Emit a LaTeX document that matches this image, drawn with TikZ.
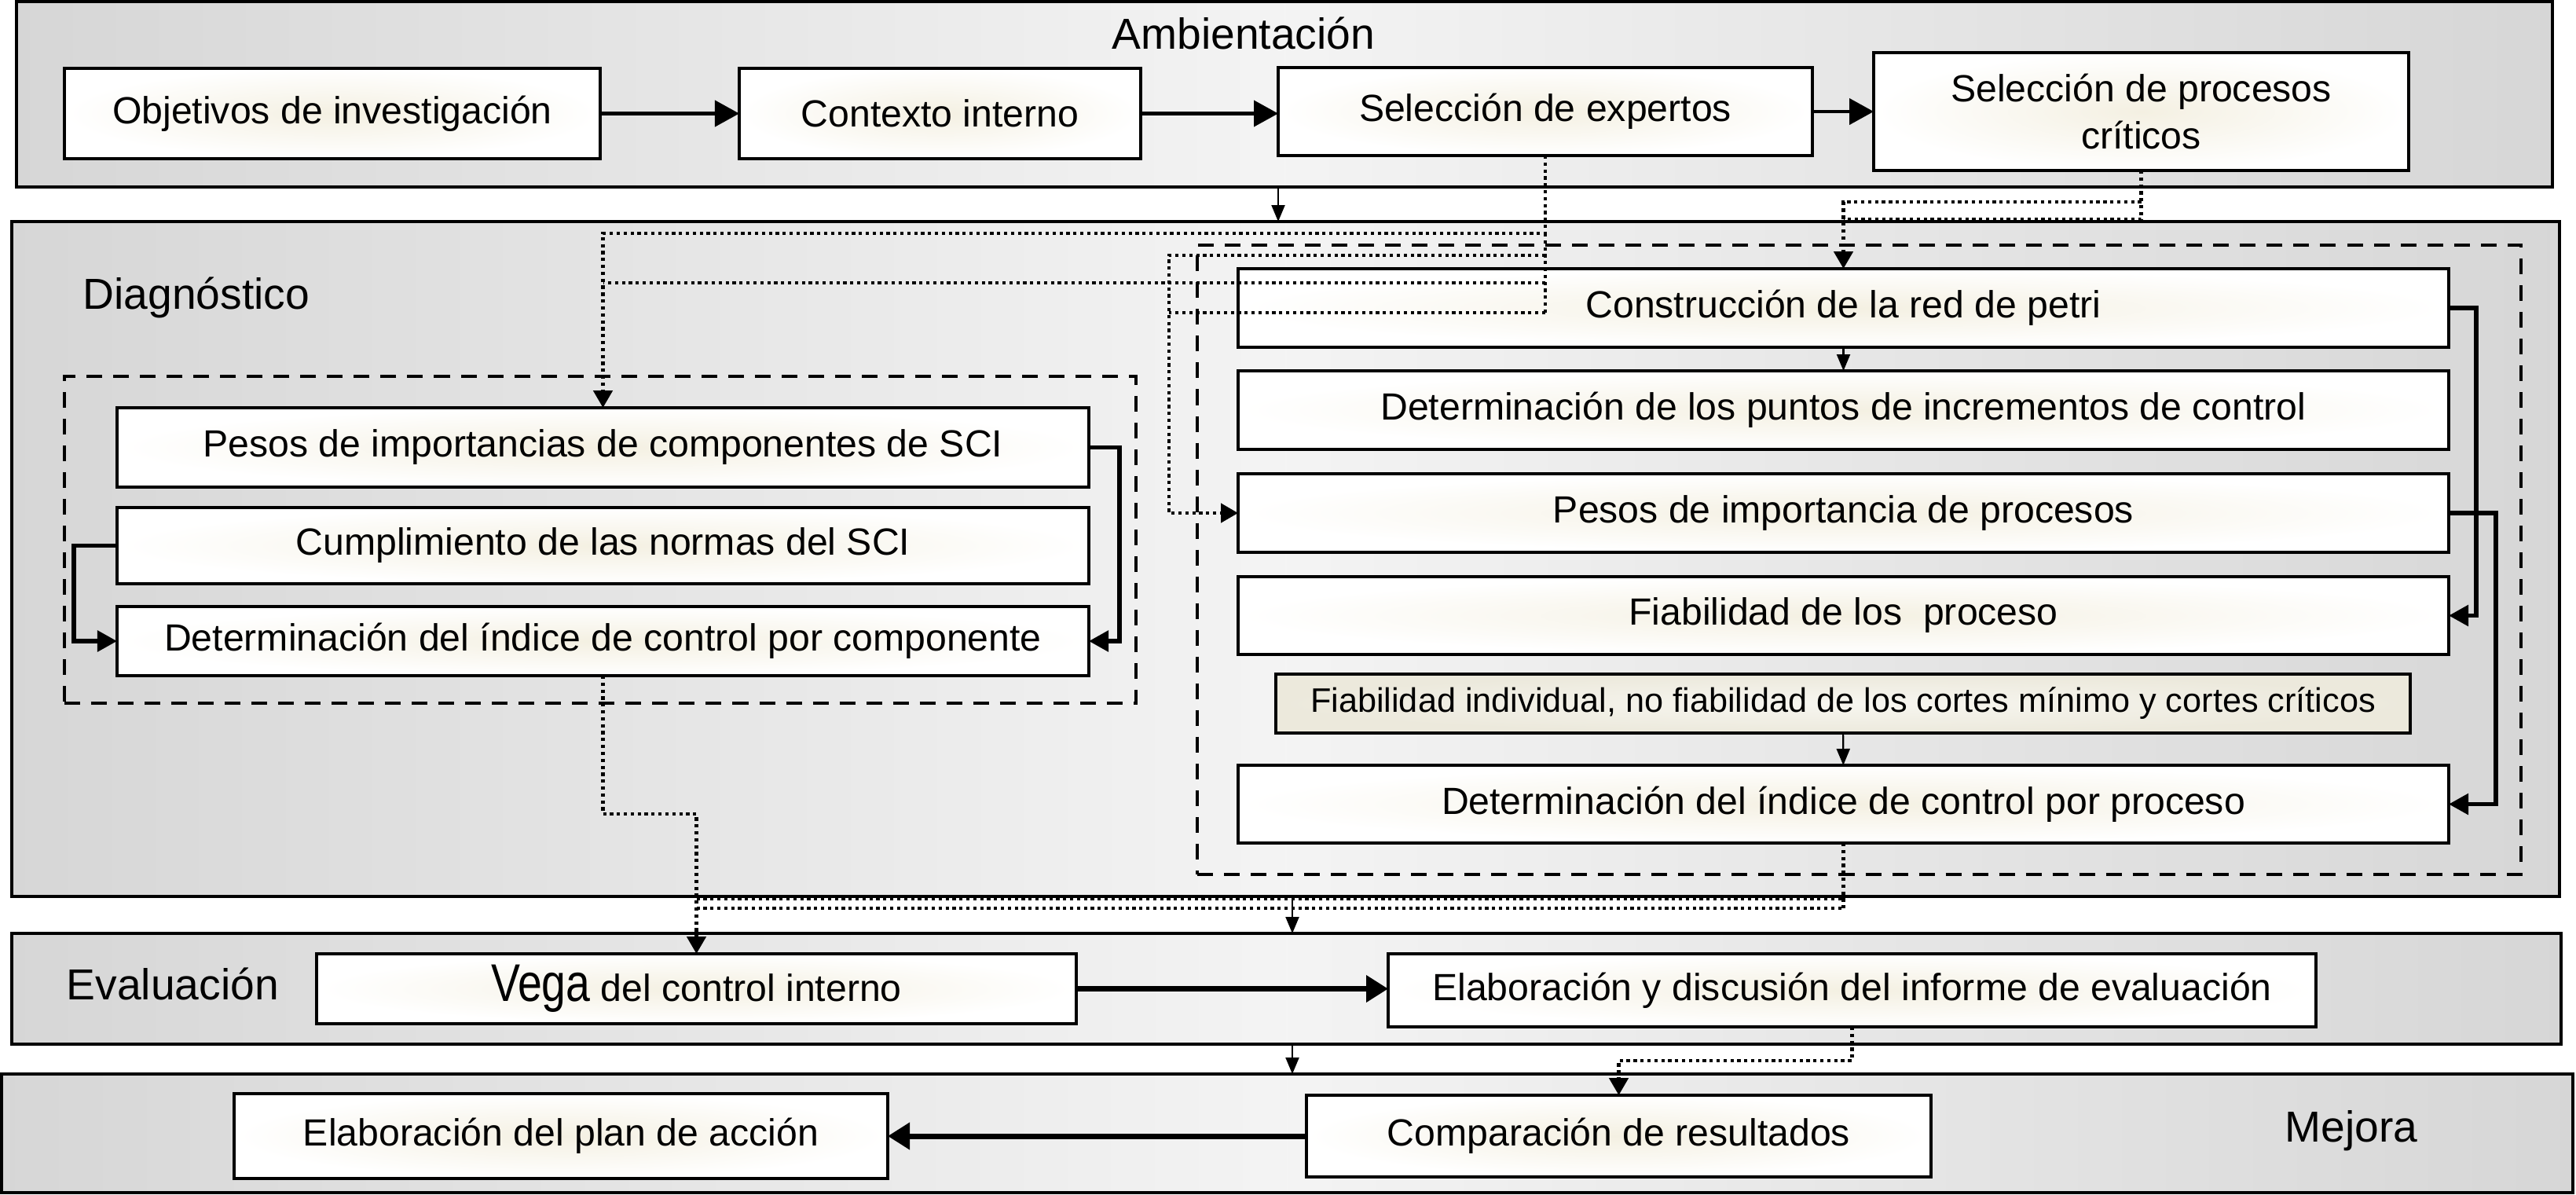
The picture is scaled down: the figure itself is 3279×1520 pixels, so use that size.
\documentclass[tikz,border=0pt]{standalone}
\usepackage{fontspec}
\usepackage{graphicx}
\setmainfont{Liberation Sans}
\usetikzlibrary{arrows.meta,calc}
\definecolor{glow}{RGB}{244,240,226}
\definecolor{beigein}{RGB}{247,246,240}
\definecolor{beigeout}{RGB}{236,233,220}
\begin{document}
\begin{tikzpicture}[x=0.01cm,y=-0.01cm,
  rect/.style args={#1/#2/#3/#4}{at={({(#1+#3)/2},{(#2+#4)/2})},
    minimum width={(#3-#1)*0.01cm}, minimum height={(#4-#2)*0.01cm}},
  panel/.style={draw=black, line width=1pt, inner sep=0pt, outer sep=0pt,
    left color=gray!32, right color=gray!32, middle color=gray!9},
  box/.style={draw=black, line width=0.9pt, inner sep=0pt, outer sep=0pt,
    inner color=glow, outer color=white, align=center,
    font=\fontsize{13.7}{17}\selectfont},
  beigebox/.style={box, inner color=beigein, outer color=beigeout,
    font=\fontsize{12.3}{15}\selectfont},
  dashbox/.style={draw=black, line width=1.2pt, inner sep=0pt, outer sep=0pt,
    dash pattern=on 0.2cm off 0.14cm},
  lab/.style={font=\fontsize{15.7}{19}\selectfont, inner sep=0pt},
  thickarr/.style={line width=1.2pt, -{Triangle[length=0.31cm,width=0.33cm]}},
  boldarr/.style={line width=2pt, -{Triangle[length=0.28cm,width=0.33cm]}},
  elbow/.style={line width=1.6pt, -{Triangle[length=0.25cm,width=0.26cm]}},
  thinarr/.style={line width=0.6pt, -{Triangle[length=0.21cm,width=0.17cm]}},
  dotline/.style={line width=1.35pt, dash pattern=on 0.042cm off 0.046cm},
  dotarr/.style={dotline, -{Triangle[length=0.22cm,width=0.24cm]}}
]
\useasboundingbox (0,0) rectangle (3279,1520);

% ---------- panels ----------
\node[panel, rect=21/2/3249/238] (amb) {};
\node[panel, rect=15/282/3258/1141] (diag) {};
\node[panel, rect=15/1188/3260/1329] (eval) {};
\node[panel, rect=2/1367/3275/1518] (mej) {};

% ---------- panel labels ----------
\node[lab, anchor=base] (lamb) at (1583,62) {Ambientación};
\node[lab, anchor=base west] (ldiag) at (105,393) {Diagnóstico};
\node[lab, anchor=base west] (leval) at (84,1272) {Evaluación};
\node[lab, anchor=base] (lmej) at (2993,1453) {Mejora};

% ---------- dashed groups ----------
\node[dashbox, rect=82/479/1446/895] (ldash) {};
\node[dashbox, rect=1524/312/3209/1113] (rdash) {};

% ---------- boxes ----------
\node[box, rect=82/87/764/202] (obj) {Objetivos de investigación};
\node[box, rect=941/87/1452/202] (ctx) {Contexto interno};
\node[box, rect=1627/86/2307/198] (exp) {Selección de expertos};
\node[box, rect=2385/67/3066/217] (pro) {Selección de procesos\\críticos};

\node[box, rect=149/519/1386/620] (pesosSCI) {Pesos de importancias de componentes de SCI};
\node[box, rect=149/646/1386/743] (cumpl) {Cumplimiento de las normas del SCI};
\node[box, rect=149/772/1386/860] (detcomp) {Determinación del índice de control por componente};

\node[box, rect=1576/342/3117/442] (constr) {Construcción de la red de petri};
\node[box, rect=1576/472/3117/572] (puntos) {Determinación de los puntos de incrementos de control};
\node[box, rect=1576/603/3117/703] (pesosproc) {Pesos de importancia de procesos};
\node[box, rect=1576/734/3117/833] (fiab) {Fiabilidad de los~ proceso};
\node[beigebox, rect=1624/858/3068/933] (fiabind) {Fiabilidad individual, no fiabilidad de los cortes mínimo y cortes críticos};
\node[box, rect=1576/974/3117/1073] (detproc) {Determinación del índice de control por proceso};

\node[box, rect=403/1214/1370/1303] (vega) {\scalebox{1.15}[1.4]{Vega} del control interno};
\node[box, rect=1767/1214/2948/1307] (informe) {Elaboración y discusión del informe de evaluación};

\node[box, rect=298/1392/1130/1500] (plan) {Elaboración del plan de acción};
\node[box, rect=1663/1394/2458/1498] (comp) {Comparación de resultados};

% ---------- helper coordinates ----------
\coordinate (xM) at (1488,0);
\coordinate (xB) at (1645,0);
\coordinate (yA) at (0,297);
\coordinate (yB) at (0,360);
\coordinate (yC) at (0,325);
\coordinate (yD) at (0,398);
\coordinate (yP1) at (0,257);
\coordinate (yP2) at (0,279);
\coordinate (yE) at (0,1036);
\coordinate (yF) at (0,1144);
\coordinate (yG) at (0,1156);
\coordinate (yH) at (0,1350);

% ---------- solid arrows ----------
\draw[thickarr] (obj.east) -- (obj.east -| ctx.west);
\draw[thickarr] (ctx.east) -- (ctx.east -| exp.west);
\draw[thickarr] (exp.east) -- (exp.east -| pro.west);

\draw[thinarr] (amb.south -| exp.west) -- (diag.north -| exp.west);
\draw[thinarr] (diag.south -| xB) -- (eval.north -| xB);
\draw[thinarr] (eval.south -| xB) -- (mej.north -| xB);

\draw[thinarr] (constr) -- (puntos);
\draw[thinarr] (fiabind) -- (detproc);

\draw[elbow] (pesosSCI.east) -- ++(39,0) |- (detcomp.east);
\draw[elbow] (cumpl.west) -- ++(-55,0) |- (detcomp.west);
\draw[elbow] (constr.east) -- ++(35,0) |- (fiab.east);
\draw[elbow] (pesosproc.east) -- ++(60,0) |- (detproc.east);

\draw[boldarr] (vega.east) -- (vega.east -| informe.west);
\draw[boldarr] (comp) -- (plan);

% ---------- dotted connectors ----------
\draw[dotarr] (exp.south) |- (yA -| pesosSCI.north) -- (pesosSCI.north);
\draw[dotline] (exp.south |- yA) -- (exp.south |- yD);
\draw[dotline] (exp.south |- yB) -- (pesosSCI.north |- yB);
\draw[dotarr] (exp.south |- yC) -| (xM |- pesosproc.west) -- (pesosproc.west);
\draw[dotline] (exp.south |- yD) -- (xM |- yD);

\draw[dotline] (pro.south) -- (pro.south |- yP2) -- (constr.north |- yP2);
\draw[dotarr] (pro.south |- yP1) -| (constr.north);

\draw[dotarr] (detcomp.south) |- (yE -| vega.north) -- (vega.north);
\draw[dotline] (vega.north |- yF) -- (detproc.south |- yF);
\draw[dotline] (vega.north |- yG) -- (detproc.south |- yG);
\draw[dotline] (detproc.south) -- (detproc.south |- yG);

\draw[dotarr] (informe.south) |- (yH -| comp.north) -- (comp.north);
\end{tikzpicture}
\end{document}
